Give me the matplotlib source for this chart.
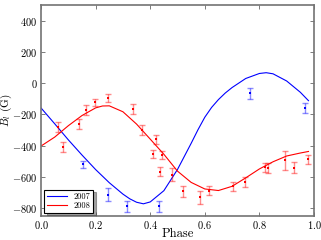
import matplotlib
matplotlib.use("Agg")
import matplotlib.pyplot as plt
import numpy as np

plt.rcParams['font.family'] = 'serif'
plt.rcParams['font.serif'] = ['cmr10', 'DejaVu Serif']
plt.rcParams['mathtext.fontset'] = 'cm'
plt.rcParams['axes.formatter.use_mathtext'] = True

# 2007 measurements
ph07 = [0.153, 0.247, 0.314, 0.433, 0.766, 0.967]
b07 = [-520, -713, -789, -789, -64, -161]
e07 = [24, 40, 37, 35, 35, 31]

# 2008 measurements
ph08 = [0.063, 0.082, 0.139, 0.164, 0.198, 0.247, 0.336, 0.369, 0.420, 0.411,
        0.444, 0.436, 0.479, 0.521, 0.582, 0.615, 0.702, 0.747, 0.821, 0.833,
        0.894, 0.927, 0.979]
b08 = [-280, -408, -262, -172, -122, -96, -165, -300, -359, -455,
       -458, -566, -585, -692, -731, -688, -660, -632, -537, -542,
       -494, -542, -488]
e08 = [32, 30, 32, 30, 22, 27, 30, 30, 28, 27,
       27, 30, 43, 34, 40, 29, 30, 34, 29, 30,
       62, 35, 30]

# fitted curves
fit07_ph = [0.00, 0.05, 0.10, 0.15, 0.20, 0.25, 0.30, 0.325, 0.35, 0.375,
            0.40, 0.45, 0.50, 0.55, 0.575, 0.60, 0.625, 0.65, 0.675, 0.70,
            0.75, 0.80, 0.825, 0.85, 0.90, 0.95, 0.98]
fit07 = [-159, -260, -363, -460, -553, -637, -710, -740, -762, -772,
         -760, -688, -552, -385, -298, -218, -155, -105, -63, -28,
         30, 62, 67, 60, 14, -58, -112]
fit08_ph = [0.00, 0.05, 0.10, 0.15, 0.20, 0.225, 0.25, 0.30, 0.35, 0.40,
            0.45, 0.50, 0.55, 0.60, 0.65, 0.70, 0.75, 0.80, 0.85, 0.90,
            0.95, 0.98]
fit08 = [-402, -345, -272, -207, -158, -146, -145, -183, -262, -358,
         -455, -563, -635, -677, -687, -660, -606, -549, -503, -466,
         -447, -437]

fig = plt.figure(figsize=(3.21, 2.40), dpi=100)
ax = fig.add_axes([0.128, 0.10, 0.850, 0.879])

ax.plot(fit07_ph, fit07, color='blue', lw=0.8, label='2007')
ax.plot(fit08_ph, fit08, color='red', lw=0.8, label='2008')

for ph, b, e, c in [(ph07, b07, e07, 'blue'), (ph08, b08, e08, 'red')]:
    ax.errorbar(ph, b, yerr=e, fmt='none', ecolor=c, alpha=0.45,
                elinewidth=1.0, capsize=2, capthick=1.0)
    ax.plot(ph, b, 's', color=c, ms=1.6, mew=0)

ax.set_xlim(0, 1)
ax.set_ylim(-850, 500)
ax.set_xticks([0.0, 0.2, 0.4, 0.6, 0.8, 1.0])
ax.set_yticks([-800, -600, -400, -200, 0, 200, 400])
ax.tick_params(direction='in', top=True, right=True, labelsize=7.5,
               length=3, width=0.6, color='0.4', pad=2.5)
for s in ax.spines.values():
    s.set_color('0.45')
    s.set_linewidth(1.2)

ax.set_xlabel('Phase', fontsize=9)
ax.set_ylabel(r'$B_l$ (G)', fontsize=8)
ax.xaxis.set_label_coords(0.5, -0.058)
ax.yaxis.set_label_coords(-0.098, 0.5)

leg = ax.legend(loc='lower left', fontsize=6, fancybox=False, shadow=True,
                handlelength=2.4, borderpad=0.3, labelspacing=0.15,
                borderaxespad=0.4, framealpha=1)
leg.get_frame().set_edgecolor('black')
leg.get_frame().set_linewidth(0.8)

fig.savefig('out.png', dpi=100)
